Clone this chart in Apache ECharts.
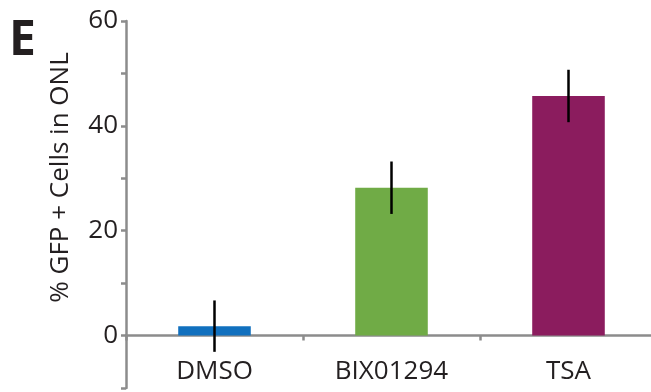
<!DOCTYPE html>
<html>
<head>
<meta charset="utf-8">
<script src="https://cdn.jsdelivr.net/npm/echarts@6/dist/echarts.min.js"></script>
<style>html,body{margin:0;padding:0;background:#fff}#c{width:651px;height:392px}</style>
</head>
<body>
<div id="c"></div>
<script>
var categories = ['DMSO', 'BIX01294', 'TSA'];
var values = [1.8, 28.2, 45.7];
var errors = [4.9, 5.0, 5.0];
var colors = ['#1170be', '#70ab46', '#8b1c5e'];
var yTicks = [0, 20, 40, 60];

var FONT = '"Open Sans", sans-serif';
var TXT = '#231f20';
var AX = '#8c8c8c';

var chart = echarts.init(document.getElementById('c'), null, {renderer: 'canvas'});
chart.setOption({
  animation: false,
  backgroundColor: '#fff',
  title: {
    text: 'E', left: 4, top: 12,
    textStyle: {fontFamily: FONT, fontSize: 48, fontWeight: 'bold', color: TXT}
  },
  grid: {left: 126, right: -6, top: 21, bottom: 4, containLabel: false, outerBoundsMode: 'none'},
  xAxis: {
    type: 'category',
    data: categories,
    axisLine: {onZero: true, lineStyle: {color: AX, width: 2.5}},
    axisTick: {show: true, length: 5, lineStyle: {color: AX, width: 2.5}},
    axisLabel: {margin: -29, fontFamily: FONT, fontSize: 26, color: TXT},
    splitLine: {show: false}
  },
  yAxis: {
    type: 'value', min: -10, max: 60, interval: 10,
    name: '% GFP + Cells in ONL',
    nameLocation: 'middle', nameGap: 52,
    nameTextStyle: {fontFamily: FONT, fontSize: 26, color: TXT, padding: [0, 0, 0, 54]},
    axisLine: {show: true, onZero: false, lineStyle: {color: AX, width: 2.5}},
    axisTick: {show: true, length: 5, lineStyle: {color: AX, width: 2.5}},
    axisLabel: {
      margin: 8, fontFamily: FONT, fontSize: 26, color: TXT,
      formatter: function (v) { return yTicks.indexOf(v) >= 0 ? String(v) : ''; }
    },
    splitLine: {show: false}
  },
  series: [
    {
      type: 'bar',
      barWidth: '41%',
      data: values.map(function (v, i) { return {value: v, itemStyle: {color: colors[i]}}; }),
      z: 2
    },
    {
      type: 'custom',
      z: 5,
      data: values.map(function (v, i) { return [i, v - errors[i], v + errors[i]]; }),
      renderItem: function (params, api) {
        var lo = api.coord([api.value(0), api.value(1)]);
        var hi = api.coord([api.value(0), api.value(2)]);
        return {
          type: 'line',
          shape: {x1: lo[0], y1: lo[1], x2: hi[0], y2: hi[1]},
          style: {stroke: '#000', lineWidth: 2.5}
        };
      }
    }
  ]
});
</script>
</body>
</html>
